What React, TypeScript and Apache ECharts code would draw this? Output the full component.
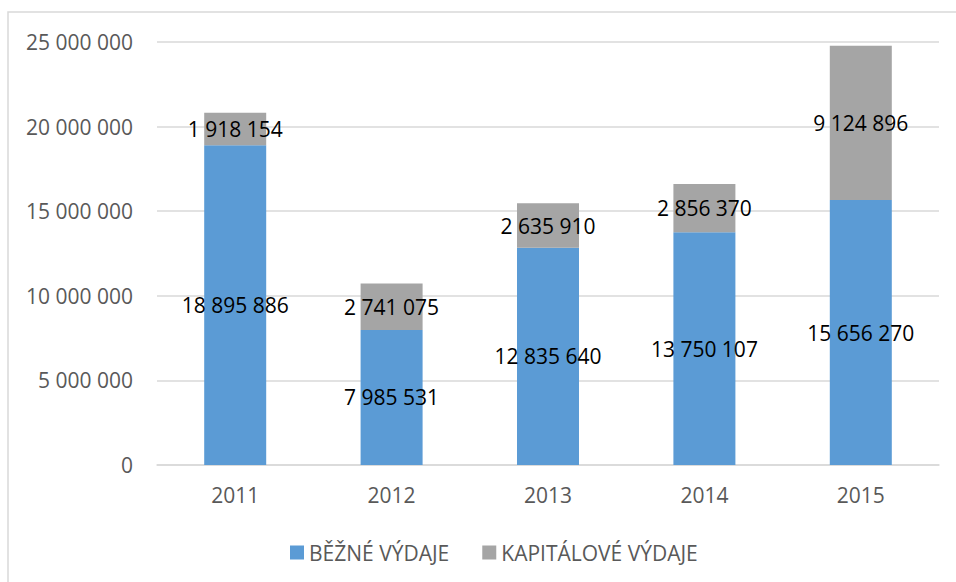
import React, { useEffect, useRef } from "react";
import * as echarts from "echarts";

const categories = ["2011", "2012", "2013", "2014", "2015"];
const bezneVydaje = [18895886, 7985531, 12835640, 13750107, 15656270];
const kapitaloveVydaje = [1918154, 2741075, 2635910, 2856370, 9124896];
const seriesNames = ["BĚŽNÉ VÝDAJE", "KAPITÁLOVÉ VÝDAJE"];

const fmt = (v: number) =>
  String(Math.round(v)).replace(/\B(?=(\d{3})+(?!\d))/g, " ");

const FONT = "Open Sans";

export default function App() {
  const ref = useRef<HTMLDivElement>(null);
  useEffect(() => {
    if (!ref.current) return;
    const chart = echarts.init(ref.current, undefined, { renderer: "svg" });
    const label = {
      show: true,
      position: "inside",
      color: "#000",
      fontFamily: FONT,
      fontSize: 21,
      formatter: (p: any) => fmt(p.value),
    };
    chart.setOption({
      animation: false,
      backgroundColor: "#fff",
      textStyle: { fontFamily: FONT },
      graphic: [
        {
          type: "rect",
          shape: { x: 8, y: 12, width: 2000, height: 2000 },
          style: { fill: "none", stroke: "#d9d9d9", lineWidth: 1.5 },
          silent: true,
        },
      ],
      grid: { left: 157, right: 17, top: 42, bottom: 117, containLabel: false },
      legend: {
        left: 285,
        top: 537,
        itemWidth: 14,
        itemHeight: 14,
        itemGap: 33,
        icon: "rect",
        textStyle: { fontFamily: FONT, fontSize: 21, color: "#595959" },
        data: seriesNames,
      },
      xAxis: {
        type: "category",
        data: categories,
        axisLine: { lineStyle: { color: "#d9d9d9", width: 1.5 } },
        axisTick: { show: false },
        axisLabel: { color: "#595959", fontFamily: FONT, fontSize: 21, margin: 19 },
      },
      yAxis: {
        type: "value",
        min: 0,
        max: 25000000,
        interval: 5000000,
        axisLine: { show: false },
        axisTick: { show: false },
        splitLine: { lineStyle: { color: "#d9d9d9", width: 1.5 } },
        axisLabel: {
          color: "#595959",
          fontFamily: FONT,
          fontSize: 21,
          margin: 24,
          formatter: (v: number) => fmt(v),
        },
      },
      series: [
        {
          name: seriesNames[0],
          type: "bar",
          stack: "total",
          data: bezneVydaje,
          barWidth: 62,
          itemStyle: { color: "#5b9bd5" },
          label,
        },
        {
          name: seriesNames[1],
          type: "bar",
          stack: "total",
          data: kapitaloveVydaje,
          barWidth: 62,
          itemStyle: { color: "#a5a5a5" },
          label,
        },
      ],
    });
    return () => chart.dispose();
  }, []);
  return (
    <div
      ref={ref}
      style={{ position: "fixed", left: 0, top: 0, width: 956, height: 582 }}
    />
  );
}
